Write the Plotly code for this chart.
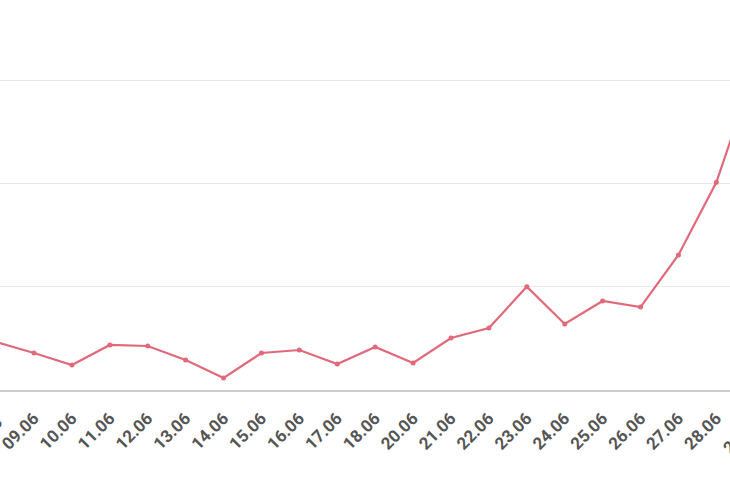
import plotly.graph_objects as go

# daily values (19.06 is absent in the source)
dates = ["08.06", "09.06", "10.06", "11.06", "12.06", "13.06", "14.06",
         "15.06", "16.06", "17.06", "18.06", "20.06", "21.06", "22.06",
         "23.06", "24.06", "25.06", "26.06", "27.06", "28.06", "29.06"]
values = [46.5, 35.8, 24.2, 43.6, 42.6, 29.0, 11.6,
          35.8, 38.7, 25.2, 41.6, 26.1, 50.3, 60.0,
          100.0, 63.9, 86.2, 80.3, 130.7, 201.0, 309.0]

line_color = "#e0697a"
tick_font = dict(family="Roboto", size=17, color="#555555", weight="bold")
x_range = [0.103, 19.36]

fig = go.Figure()
fig.add_trace(go.Scatter(
    x=dates, y=values, mode="lines+markers",
    line=dict(color=line_color, width=2.2),
    marker=dict(color=line_color, size=5),
    cliponaxis=True,
))

# edge labels that the axis range cuts off
for i in (0, len(dates) - 1):
    xp = (i - x_range[0]) / (x_range[1] - x_range[0])
    fig.add_annotation(x=xp, xref="paper", y=0, yref="paper", yshift=-20,
                       xshift=13, text=dates[i], showarrow=False, textangle=-45,
                       xanchor="right", yanchor="top", font=tick_font)

fig.update_layout(
    width=730, height=500,
    margin=dict(l=0, r=0, t=0, b=110),
    paper_bgcolor="white", plot_bgcolor="white",
    showlegend=False,
    xaxis=dict(
        type="category", range=x_range, automargin=False,
        tickangle=-45, tickfont=tick_font,
        showgrid=False, showline=True, linecolor="#cccccc", linewidth=1.5,
        ticks="", ticklabelstandoff=10,
    ),
    yaxis=dict(
        range=[0, 377.5], dtick=100, showticklabels=False, automargin=False,
        showgrid=True, gridcolor="#e9e9e9", gridwidth=1,
        zeroline=False,
    ),
)

# drop the browser's default body margin so the chart fills the window
fig.write_html("out.html", config={"displayModeBar": False},
               post_script="document.body.style.margin = '0';")
